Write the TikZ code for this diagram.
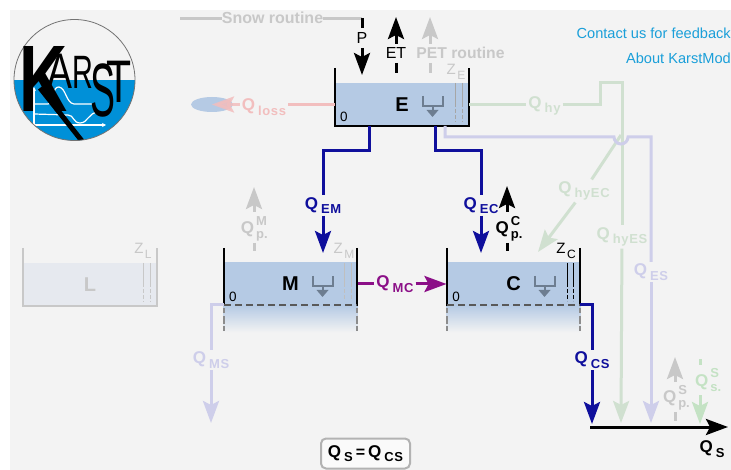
\documentclass[tikz,border=0pt]{standalone}
\usepackage{fontspec}
\setmainfont{Liberation Sans}
\usetikzlibrary{arrows.meta,positioning,calc,shapes.geometric}

\definecolor{bgcol}{HTML}{F3F3F3}
\definecolor{watercol}{HTML}{B5CAE4}
\definecolor{lwatercol}{HTML}{E6E9EF}
\definecolor{qblue}{HTML}{0F0F9C}
\definecolor{qpurple}{HTML}{8B0F87}
\definecolor{qgreen}{HTML}{D0E0D0}
\definecolor{qlilac}{HTML}{CECEEA}
\definecolor{qpink}{HTML}{F2BEBE}
\definecolor{qgray}{HTML}{C8C8C8}
\definecolor{ssgreen}{HTML}{C4E2C4}
\definecolor{linkcol}{HTML}{1A9FD9}
\definecolor{logoblue}{HTML}{0090D8}
\definecolor{outletcol}{HTML}{6D7D90}

\newfontfamily\spaced[LetterSpace=5]{Liberation Sans}
\newcommand{\qsub}[1]{{\fontsize{17}{17}\selectfont Q}\hspace{3pt}\raisebox{-4.5pt}{\spaced\fontsize{13}{13}\selectfont\bfseries #1}}
\newcommand{\qboth}[2]{{\fontsize{17}{17}\selectfont Q}\hspace{2pt}\rlap{\raisebox{-5pt}{\fontsize{13}{13}\selectfont #2}}\raisebox{8.3pt}{\fontsize{13}{13}\selectfont #1}\hspace{3pt}}
\newcommand{\zsub}[1]{{\fontsize{15}{15}\selectfont\mdseries Z}\hspace{1.5pt}\raisebox{-4.5pt}{\fontsize{12}{12}\selectfont\mdseries #1}}

\tikzset{
  lab/.style={font=\bfseries, inner sep=2pt, outer sep=0pt},
  water/.style={fill=watercol, minimum width=134pt, minimum height=43pt, inner sep=0pt, outer sep=0pt, font=\fontsize{20}{20}\selectfont\bfseries},
  wall/.style={line width=2.4pt, black},
  lowwall/.style={line width=2pt, gray!90, dash pattern=on 5pt off 3pt on 8pt off 2pt},
  level/.style={line width=1.8pt, black!65, dash pattern=on 7pt off 4pt},
  flow/.style={line width=3pt},
  flowtip/.style={line width=3pt, -{Stealth[length=22pt,width=16pt,inset=4pt]}},
  zline/.style={line width=1pt, dash pattern=on 24pt off 2pt on 4pt off 2pt on 4pt off 2pt},
  zero/.style={font=\fontsize{13.5}{13.5}\selectfont, inner sep=0pt},
  outlet/.pic={
    \draw[line width=2pt, outletcol] (-10,-5) -- (-10,5) -- (10,5) -- (10,-5);
    \draw[line width=2pt, outletcol] (0,5) -- (0,9);
    \fill[outletcol] (-6,9) -- (6,9) -- (0,16) -- cycle;
  }
}

\begin{document}
\begin{tikzpicture}[x=1pt,y=-1pt]
    \useasboundingbox (0,0) rectangle (731,470);
    \fill[white] (0,0) rectangle (731,470);
    \fill[bgcol] (10,10) rectangle (731,470);

    % logo
    \begin{scope}
        \clip (74.5,80) circle (60.5);
        \fill[logoblue] (10,80) rectangle (140,145);
        \draw[white, line width=1.2pt, -{Stealth[length=4pt,width=4pt]}] (34,125) -- (106,125);
        \draw[white, line width=1.2pt, -{Stealth[length=4pt,width=4pt]}] (34,125) -- (34,87);
        \draw[white, line width=1.2pt] (34,104) -- (48,104) .. controls (54,104) and (52,86) .. (59,87) .. controls (66,88) and (66,103) .. (74,104) -- (92,104);
        \draw[white, line width=1.2pt] (34,114) -- (68,115) .. controls (74,115) and (73,123) .. (80,123) .. controls (88,123) and (88,113) .. (98,112);
        \draw[black, line width=5pt] (40,88) -- (82,141);
    \end{scope}
    \draw[black!55, line width=0.8pt] (74.5,80) circle (60.5);
    \node[inner sep=0pt] (logoK) at (44,79) {\scalebox{0.74}[1.05]{\fontsize{90}{90}\selectfont\bfseries K}};
    \node[inner sep=0pt] (logoA) at (60,71.5) {\scalebox{1.04}[1.39]{\fontsize{36}{36}\selectfont A}};
    \node[inner sep=0pt] (logoR) at (82.5,72.5) {\scalebox{0.8}[1.3]{\fontsize{36}{36}\selectfont R}};
    \node[inner sep=0pt] (logoS) at (102.5,90) {\scalebox{1.04}[2.1]{\fontsize{36}{36}\selectfont S}};
    \node[inner sep=0pt] (logoT) at (119.5,82) {\scalebox{1.14}[1.67]{\fontsize{36}{36}\selectfont T}};

    % links
    \node[anchor=east, inner sep=0pt, text=linkcol, font=\fontsize{14.6}{14.6}\selectfont] (contact) at (731,33) {Contact us for feedback};
    \node[anchor=east, inner sep=0pt, text=linkcol, font=\fontsize{14.6}{14.6}\selectfont] (about) at (731,58) {About KarstMod};

    % tanks
    \node[water, fill=lwatercol, text=qgray] (L) at (90,285) {L};
    \node[water] (M) at (290.5,284) {M};
    \node[water] (C) at (513.5,284) {C};
    \node[water, minimum height=43pt] (E) at (402,104.5) {E};
    \shade[top color=watercol, bottom color=bgcol] (M.south west) rectangle ++(134,27);
    \shade[top color=watercol, bottom color=bgcol] (C.south west) rectangle ++(134,27);

    \draw[wall] (335,68) |- (469,126) -- (469,68);
    \draw[wall, qgray, line width=2pt] (23,248) |- (157,306) -- (157,248);
    \draw[wall] (224,248) -- (224,306);
    \draw[wall] (357,248) -- (357,306);
    \draw[wall] (447,248) -- (447,306);
    \draw[wall] (580,248) -- (580,306);
    \draw[level] (224,305) -- (357,305);
    \draw[level] (447,305) -- (580,305);
    \draw[lowwall] (224,308) -- (224,331);
    \draw[lowwall] (357,308) -- (357,331);
    \draw[lowwall] (447,308) -- (447,331);
    \draw[lowwall] (580,308) -- (580,331);

    \node[zero] (zeroE) at (344,117) {0};
    \node[zero] (zeroM) at (233,297) {0};
    \node[zero] (zeroC) at (456,297) {0};

    \pic at (432.5,101) {outlet};
    \pic at (322.5,281) {outlet};
    \pic at (544.5,281) {outlet};

    \draw[zline, black!35] (455,83) -- (455,122);
    \draw[zline, black!35] (462,83) -- (462,122);
    \draw[zline, black!25] (344,263) -- (344,301);
    \draw[zline, black!25] (351,263) -- (351,301);
    \draw[zline, black] (567,263) -- (567,301);
    \draw[zline, black] (573,263) -- (573,301);
    \draw[zline, qgray] (143,263) -- (143,302);
    \draw[zline, qgray] (150,263) -- (150,302);

    \node[lab, text=qgray] (zE) at (456,72) {\zsub{E}};
    \node[lab, text=qgray] (zM) at (344,251) {\zsub{M}};
    \node[lab] (zC) at (566,251) {\zsub{C}};
    \node[lab, text=qgray] (zL) at (143,251) {\zsub{L}};

    % top of E
    \node[lab, text=qgray, font=\fontsize{16}{16}\selectfont\bfseries, inner sep=0pt] (snow) at (272.5,18) {Snow routine};
    \node[lab, font=\fontsize{16}{16}\selectfont, inner sep=0pt] (P) at (362,38) {P};
    \node[lab, font=\fontsize{16}{16}\selectfont, inner sep=0pt] (ET) at (396,53) {ET};
    \node[lab, text=qgray, font=\fontsize{15.7}{15.7}\selectfont\bfseries, inner sep=0pt] (PET) at (460.5,53) {PET routine};
    \coordinate (snowstart) at (180,19);
    \coordinate (snowend) at (362,19);
    \draw[qgray, flow] (snowstart) -- (snow.west |- snowstart);
    \draw[qgray, flow] (snow.east |- snowend) -- (snowend);
    \draw[flow] (362,18) -- (362,28);
    \draw[flowtip] (362,48) -- (362,75);
    \draw[flowtip] (396,44) -- (396,17);
    \draw[flow] (396,63) -- (396,73);
    \draw[flowtip, qgray] (430,44) -- (430,17);
    \draw[flow, qgray] (430,63) -- (430,73);

    % loss
    \node[ellipse, draw=none, fill=watercol, minimum width=42pt, minimum height=15pt, inner sep=0pt] (sink) at (212,104.5) {};
    \node[lab, text=qpink] (qloss) at (264,107) {\qsub{loss}};
    \draw[qpink, flow] (E.west) -- (qloss.east |- E.west);
    \draw[flowtip, qpink, opacity=0.85] (qloss.west |- E.west) -- (sink.center);

    % hydro
    \node[lab, text=qgreen] (qhy) at (544.5,106) {\qsub{hy}};
    \node[lab, text=qgreen] (qhyes) at (622,237) {\qsub{hyES}};
    \node[lab, text=qgreen] (qhyec) at (584,191) {\qsub{hyEC}};
    \coordinate (hyfork) at (621,135);
    \coordinate (hyecend) at (538,252);
    \coordinate (hyesend) at (621,423);
    \draw[qgreen, flow] (E.east) -- (qhy.west |- E.east);
    \draw[qgreen, flow] (qhy.east |- E.east) -| (600,83) -| (qhyes);
    \draw[qgreen, flowtip] (qhyes) -- (hyesend);
    \draw[qgreen, flow] (hyfork) -- (qhyec);
    \draw[qgreen, flowtip] (qhyec) -- (hyecend);

    \node[lab, text=qlilac] (qes) at (651,272) {\qsub{ES}};
    \coordinate (esout) at (445,126);
    \coordinate (esend) at (651,423);
    \draw[qlilac, flow] (esout) |- (614,137) arc[start angle=180, end angle=0, radius=7] -| (qes);
    \draw[qlilac, flowtip] (qes) -- (esend);

    \node[lab, text=qlilac] (qms) at (211,360) {\qsub{MS}};
    \coordinate (msend) at (211,423);
    \coordinate (msout) at (224,305);
    \draw[qlilac, flow] (msout) -| (qms);
    \draw[qlilac, flowtip] (qms) -- (msend);

    % main flows
    \node[lab, text=qblue] (qem) at (323,205.5) {\qsub{EM}};
    \node[lab, text=qblue] (qec) at (481,205.5) {\qsub{EC}};
    \node[lab, text=qblue] (qcs) at (592,360) {\qsub{CS}};
    \node[lab, text=qpurple] (qmc) at (395,284) {\qsub{MC}};
    \coordinate (emout) at (369,126);
    \coordinate (ecout) at (435,126);
    \coordinate (csout) at (580,305);
    \coordinate (qsleft) at (590,427);
    \coordinate (qsright) at (728,427);
    \draw[qblue, flow] (emout) |- (323,151) -- (qem);
    \draw[qblue, flowtip] (qem) -- (323,253);
    \draw[qblue, flow] (ecout) |- (481,151) -- (qec);
    \draw[qblue, flowtip] (qec) -- (481,253);
    \draw[qblue, flow] (csout) -| (qcs);
    \draw[qblue, flowtip] (qcs) -- (592,424);
    \draw[qpurple, flow] (M.east) -- (qmc);
    \draw[qpurple, flowtip] (qmc) -- (C.west);

    \draw[flowtip] (qsleft) -- (qsright);
    \node[lab] (qs) at (712,449) {\qsub{S}};

    % p and s fluxes
    \node[lab, text=qgray] (qpm) at (254,229) {\qboth{M}{p.}};
    \node[lab] (qpc) at (508,229) {\qboth{C}{p.}};
    \node[lab, text=qgray] (qps) at (675,398) {\qboth{S}{p.}};
    \node[lab, text=ssgreen] (qss) at (707,380) {\qboth{S}{s.}};
    \draw[flowtip, qgray] (254,212) -- (254,187);
    \draw[flow, qgray] (254,243) -- (254,251);
    \draw[flowtip] (507,212) -- (507,186);
    \draw[flow] (507,243) -- (507,251);
    \draw[flowtip, qgray] (675,382) -- (675,357);
    \draw[flow, qgray] (675,412) -- (675,421);
    \draw[flow, ssgreen] (700,359) -- (700,365);
    \draw[flowtip, ssgreen] (700,395) -- (700,424);

    % equation box
    \node[draw=black!30, line width=2pt, rounded corners=5pt, fill=white!60!bgcol, font=\fontsize{16}{16}\selectfont\bfseries, minimum width=89pt, minimum height=30pt, inner sep=0pt] (eqbox) at (365.5,453.5) {\qsub{S}\hspace{3pt}=\hspace{3pt}\qsub{CS}};
\end{tikzpicture}
\end{document}
